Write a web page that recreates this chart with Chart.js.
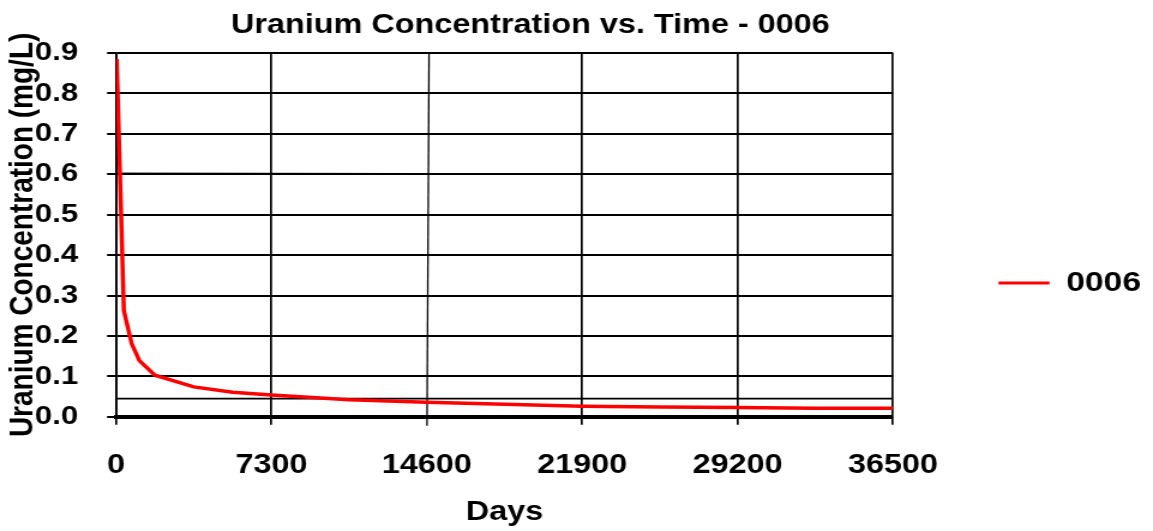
<!DOCTYPE html>
<html>
<head>
<meta charset="utf-8">
<script src="https://cdn.jsdelivr.net/npm/chart.js@4"></script>
<style>
  body { margin: 0; background: #fff; }
</style>
</head>
<body>
<!-- the source image is stretched sideways, so draw narrower and widen with an inline style -->
<canvas id="chart" width="961" height="531" style="width:1153px;height:531px;display:block"></canvas>
<script>
const days = [30, 365, 730, 1095, 1825, 3650, 5475, 7300, 10950, 14600, 18250, 21900, 25550, 29200, 32850, 36500];
const conc = [0.885, 0.263, 0.181, 0.139, 0.103, 0.074, 0.061, 0.054, 0.042, 0.036, 0.031, 0.026, 0.024, 0.023, 0.021, 0.021];

// stray black lines that sit in the original picture
const flatDays = [0, 36500];
const flatConc = [0.603, 0.600];
const lowDays = [0, 36500];
const lowConc = [0.045, 0.045];
const slantDays = [14704, 14610];
const slantConc = [0.9, -0.022];

const xTicks = [0, 7300, 14600, 21900, 29200, 36500];
const yTicks = [0, 0.1, 0.2, 0.3, 0.4, 0.5, 0.6, 0.7, 0.8, 0.9];

const FONT = '"Liberation Sans", Arial, sans-serif';
const toPoints = (xs, ys) => xs.map((x, i) => ({ x, y: ys[i] }));

const nudgeTitle = {
  id: 'nudgeTitle',
  afterLayout(chart) {
    if (chart.titleBlock) chart.titleBlock.left += 43;
  }
};

new Chart(document.getElementById('chart').getContext('2d'), {
  type: 'line',
  data: {
    datasets: [
      {
        label: '0006',
        data: toPoints(days, conc),
        borderColor: '#ff0000',
        backgroundColor: '#ff0000',
        borderWidth: 3.5,
        pointRadius: 0,
        fill: false
      },
      {
        label: 'flat',
        data: toPoints(flatDays, flatConc),
        borderColor: '#000',
        borderWidth: 1,
        pointRadius: 0
      },
      {
        label: 'low',
        data: toPoints(lowDays, lowConc),
        borderColor: '#000',
        borderWidth: 1.8,
        pointRadius: 0
      },
      {
        label: 'slant',
        data: toPoints(slantDays, slantConc),
        borderColor: '#000',
        borderWidth: 1.3,
        pointRadius: 0,
        clip: false
      }
    ]
  },
  options: {
    responsive: false,
    animation: false,
    devicePixelRatio: 1,
    layout: { padding: 0 },
    scales: {
      x: {
        type: 'linear',
        min: 0,
        max: 36500,
        afterBuildTicks: scale => { scale.ticks = xTicks.map(v => ({ value: v })); },
        ticks: {
          callback: v => String(v),
          color: '#000',
          font: { family: FONT, size: 27, weight: 'bold' },
          padding: 25,
          maxRotation: 0,
          autoSkip: false
        },
        grid: {
          color: '#000',
          lineWidth: ctx => (ctx.tick && ctx.tick.value === 14600 ? 0 : 1.7),
          tickLength: 8
        },
        border: { color: '#000', width: 4 },
        title: {
          display: true,
          text: 'Days',
          color: '#000',
          font: { family: FONT, size: 27, weight: 'bold' },
          padding: { top: -10.6, bottom: 2 }
        }
      },
      y: {
        min: 0,
        max: 0.9,
        afterBuildTicks: scale => { scale.ticks = yTicks.map(v => ({ value: v })); },
        ticks: {
          callback: v => v.toFixed(1),
          color: '#000',
          font: { family: FONT, size: 26, weight: 'bold' },
          padding: 24
        },
        grid: {
          color: '#000',
          lineWidth: 2,
          tickLength: 7.5
        },
        border: { color: '#000', width: 1.7 },
        title: {
          display: true,
          text: 'Uranium Concentration (mg/L)',
          color: '#000',
          font: { family: FONT, size: 28, weight: 'bold' },
          padding: { top: 2.5, bottom: -31 }
        }
      }
    },
    plugins: {
      title: {
        display: true,
        text: 'Uranium Concentration vs. Time - 0006',
        color: '#000',
        fullSize: false,
        font: { family: FONT, size: 27, weight: 'bold' },
        padding: { top: 9, bottom: 11.6 }
      },
      legend: {
        position: 'right',
        title: { display: true, text: '', padding: { top: 20.6, bottom: 0 } },
        labels: {
          color: '#000',
          font: { family: FONT, size: 28, weight: 'bold' },
          boxWidth: 42.5,
          boxHeight: 3,
          padding: 88,
          generateLabels: chart => Chart.defaults.plugins.legend.labels.generateLabels(chart)
            .filter(item => item.datasetIndex === 0)
            .map(item => ({ ...item, lineWidth: 0 }))
        }
      },
      tooltip: { enabled: false }
    }
  },
  plugins: [nudgeTitle]
});
</script>
</body>
</html>
